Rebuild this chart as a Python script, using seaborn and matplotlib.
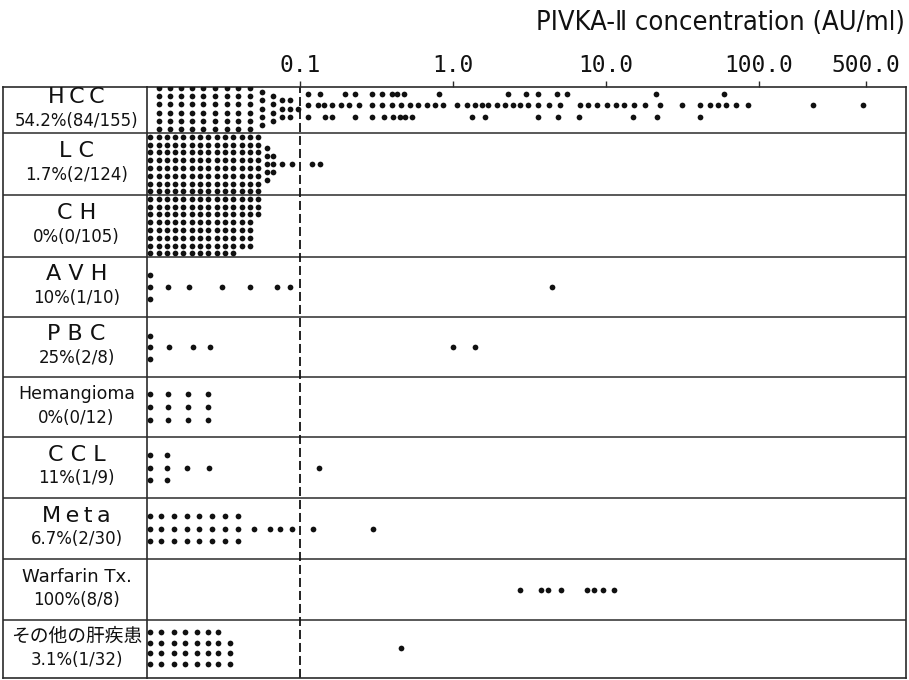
import matplotlib
matplotlib.use("Agg")
import matplotlib.pyplot as plt
import numpy as np
import pandas as pd
import seaborn as sns

sns.set_theme(style="white")
plt.rcParams['font.family'] = ['DejaVu Sans', 'Noto Sans CJK JP']

# ---------------- data ----------------
CATEGORIES = ["HCC", "LC", "CH", "AVH", "PBC", "Hemangioma", "CCL", "Meta",
              "Warfarin Tx.", "その他の肝疾患"]
NAME_LABELS = ["H\u2009C\u2009C", "L C", "C H", "A V H", "P B C", "Hemangioma",
               "C C L", "M\u2009e\u2009t\u2009a", "Warfarin Tx.", "その他の肝疾患"]
RATE_LABELS = ["54.2%(84/155)", "1.7%(2/124)", "0%(0/105)", "10%(1/10)", "25%(2/8)",
               "0%(0/12)", "11%(1/9)", "6.7%(2/30)", "100%(8/8)", "3.1%(1/32)"]
TITLE = "PIVKA-\u2161 concentration (AU/ml)"
TICK_VALUES = [0.1, 1.0, 10.0, 100.0, 500.0]
TICK_LABELS = ["0.1", "1.0", "10.0", "100.0", "500.0"]
CUTOFF = 0.1

# stacked dot columns (value, number of dots in the stack)
HCC_COL_VALUES = [0.0119, 0.0141, 0.0167, 0.0196, 0.0233, 0.0278, 0.0332, 0.0395,
                  0.0471, 0.0562, 0.0668, 0.0759, 0.0861, 0.0975]
HCC_COL_COUNTS = [6, 6, 6, 6, 6, 6, 6, 6, 6, 5, 4, 3, 3, 1]
# HCC values above the cut-off, drawn in three lanes
HCC_TOP = [0.112, 0.135, 0.197, 0.229, 0.297, 0.345, 0.398, 0.429, 0.481, 0.81,
           2.30, 3.00, 3.61, 4.76, 5.58, 21.1, 59.3]
HCC_MID = [0.112, 0.131, 0.144, 0.163, 0.185, 0.209, 0.243, 0.297, 0.345, 0.401,
           0.457, 0.524, 0.593, 0.673, 0.763, 0.864, 1.07, 1.24, 1.39, 1.54, 1.70,
           1.93, 2.19, 2.48, 2.74, 3.11, 3.61, 4.26, 5.00, 6.76, 7.66, 8.70, 10.2,
           11.7, 13.2, 15.3, 18.0, 22.5, 31.5, 41.2, 47.8, 54.2, 60.6, 70.7, 84.3,
           226.0, 476.0]
HCC_BOT = [0.112, 0.146, 0.163, 0.229, 0.297, 0.356, 0.407, 0.450, 0.486, 0.537,
           1.33, 1.62, 3.61, 4.88, 6.69, 15.1, 21.4, 41.2]

LC_VALUES = [0.0105, 0.0119, 0.0135, 0.0152, 0.0173, 0.0196, 0.0222, 0.0252, 0.0286,
             0.0324, 0.0366, 0.0416, 0.0471, 0.0533, 0.0605, 0.0668, 0.0759, 0.0883,
             0.119, 0.135]
LC_COUNTS = [8, 8, 8, 8, 8, 8, 8, 8, 8, 8, 8, 8, 8, 8, 5, 3, 1, 1, 1, 1]

CH_VALUES = [0.0105, 0.0119, 0.0135, 0.0152, 0.0173, 0.0196, 0.0222, 0.0252, 0.0286,
             0.0324, 0.0366, 0.0416, 0.0471, 0.0533]
CH_COUNTS = [8, 8, 8, 8, 8, 8, 8, 8, 8, 8, 8, 7, 7, 3]

AVH_VALUES = [0.0105, 0.0138, 0.0189, 0.0308, 0.0471, 0.0705, 0.0861, 4.44]
AVH_COUNTS = [3, 1, 1, 1, 1, 1, 1, 1]

PBC_VALUES = [0.0104, 0.0139, 0.0201, 0.0258, 1.00, 1.39]
PBC_COUNTS = [3, 1, 1, 1, 1, 1]

HEM_VALUES = [0.0105, 0.0138, 0.0186, 0.0252]
HEM_COUNTS = [3, 3, 3, 3]

CCL_VALUES = [0.0104, 0.0135, 0.0183, 0.0255, 0.133]
CCL_COUNTS = [3, 3, 1, 1, 1]

META_VALUES = [0.0104, 0.0124, 0.0150, 0.0182, 0.0220, 0.0266, 0.0324, 0.0395,
               0.0500, 0.0637, 0.0740, 0.0883, 0.122, 0.300]
META_COUNTS = [3, 3, 3, 3, 3, 3, 3, 3, 1, 1, 1, 1, 1, 1]

WARF_VALUES = [2.73, 3.78, 4.16, 5.08, 7.55, 8.35, 9.60, 11.2]
WARF_COUNTS = [1, 1, 1, 1, 1, 1, 1, 1]

OTHER_VALUES = [0.0104, 0.0124, 0.0150, 0.0177, 0.0211, 0.0252, 0.0292, 0.0349, 0.457]
OTHER_COUNTS = [4, 4, 4, 4, 4, 4, 4, 3, 1]

COLUMN_DATA = [
    (HCC_COL_VALUES, HCC_COL_COUNTS), (LC_VALUES, LC_COUNTS), (CH_VALUES, CH_COUNTS),
    (AVH_VALUES, AVH_COUNTS), (PBC_VALUES, PBC_COUNTS), (HEM_VALUES, HEM_COUNTS),
    (CCL_VALUES, CCL_COUNTS), (META_VALUES, META_COUNTS), (WARF_VALUES, WARF_COUNTS),
    (OTHER_VALUES, OTHER_COUNTS),
]

# ---------------- layout (pixel units of the 909x680 canvas) ----------------
W, H = 909, 680
ROW_EDGES = [87, 133, 195, 257, 317, 377, 437, 498, 559, 620, 678]
X_LEFT, X_SEP, X_RIGHT = 3, 147, 906
PX_AT_CUTOFF, PX_PER_DECADE = 300.0, 153.0
STACK_SPACING = [8.2, 7.8, 7.8, 12.0, 11.5, 13.3, 12.8, 12.2, 12.0, 10.7]
STACK_SHIFT = [-1.5, 0, 0, 0, 0, 0, 0, 0, 0, -1]
STACK_ALIGN = ["center", "center", "top", "center", "center", "center", "center",
               "center", "center", "bottom"]
HCC_LANE_SHIFT, HCC_LANE_SPACING = -5.0, 11.5
NAME_SIZES = [16, 16, 16, 16, 16, 12.5, 16, 16, 13, 13.5]
RATE_SIZE = 12
LINE_COLOR = "#2b2b2b"
DOT_COLOR = "#111111"

centers = [(ROW_EDGES[i] + ROW_EDGES[i + 1]) / 2 for i in range(len(CATEGORIES))]

records = []
for i, (vals, cnts) in enumerate(COLUMN_DATA):
    c = centers[i] + STACK_SHIFT[i]
    sp = STACK_SPACING[i]
    grid = max(cnts)
    for v, n in zip(vals, cnts):
        if n == 1 or STACK_ALIGN[i] == "center":
            first = -(n - 1) / 2
        elif STACK_ALIGN[i] == "top":
            first = -(grid - 1) / 2
        else:
            first = (grid - 1) / 2 - (n - 1)
        for k in range(n):
            records.append({"category": CATEGORIES[i], "value": v,
                            "y": c + (first + k) * sp})
for lane, vals in zip([-1, 0, 1], [HCC_TOP, HCC_MID, HCC_BOT]):
    for v in vals:
        records.append({"category": "HCC", "value": v,
                        "y": centers[0] + HCC_LANE_SHIFT + lane * HCC_LANE_SPACING})
df = pd.DataFrame(records)

fig = plt.figure(figsize=(W / 100, H / 100), dpi=100)
fig.patch.set_facecolor("white")

bottom = (H - ROW_EDGES[-1]) / H
height = (ROW_EDGES[-1] - ROW_EDGES[0]) / H
ax = fig.add_axes([X_SEP / W, bottom, (X_RIGHT - X_SEP) / W, height])
ax_lab = fig.add_axes([X_LEFT / W, bottom, (X_SEP - X_LEFT) / W, height])

xmin = CUTOFF * 10 ** ((X_SEP - PX_AT_CUTOFF) / PX_PER_DECADE)
xmax = CUTOFF * 10 ** ((X_RIGHT - PX_AT_CUTOFF) / PX_PER_DECADE)
ax.set_xscale("log")

sns.scatterplot(data=df, x="value", y="y", color=DOT_COLOR, s=17, linewidth=0,
                ax=ax, legend=False, zorder=3)

ax.set_xlim(xmin, xmax)
ax.set_ylim(ROW_EDGES[-1], ROW_EDGES[0])
ax.set_xlabel("")
ax.set_ylabel("")
ax.set_yticks([])
ax.axvline(CUTOFF, color=DOT_COLOR, lw=1.3, ls=(0, (5, 2.2)), zorder=2)

ax.xaxis.set_ticks_position("top")
ax.set_xticks(TICK_VALUES)
ax.set_xticklabels(TICK_LABELS)
ax.minorticks_off()
ax.tick_params(axis="x", which="major", length=4, width=1, color=LINE_COLOR,
               direction="out", pad=3, labelsize=16.5, labelcolor="#111")
for t in ax.get_xticklabels():
    t.set_fontfamily("DejaVu Sans Mono")

for a in (ax, ax_lab):
    for s in a.spines.values():
        s.set_color(LINE_COLOR)
        s.set_linewidth(1.2)
    for yb in ROW_EDGES[1:-1]:
        a.axhline(yb, color=LINE_COLOR, lw=1.1, zorder=1)
ax_lab.spines["right"].set_visible(False)
ax_lab.set_xlim(0, 1)
ax_lab.set_ylim(ROW_EDGES[-1], ROW_EDGES[0])
ax_lab.set_xticks([])
ax_lab.set_yticks([])
ax_lab.patch.set_alpha(0)

for i in range(len(CATEGORIES)):
    ax_lab.text(0.51, centers[i] - 13, NAME_LABELS[i], ha="center", va="center",
                fontsize=NAME_SIZES[i], color="#111",
                family=["DejaVu Sans", "Noto Sans CJK JP"])
    ax_lab.text(0.51, centers[i] + 10.5, RATE_LABELS[i], ha="center", va="center",
                fontsize=RATE_SIZE, color="#111")

fig.text(905 / W, 1 - 23 / H, TITLE, ha="right", va="center", fontsize=19.5,
         fontstretch="condensed", color="#111",
         family=["DejaVu Sans", "Noto Sans CJK JP"])

fig.savefig("out.png", dpi=100, facecolor="white")
